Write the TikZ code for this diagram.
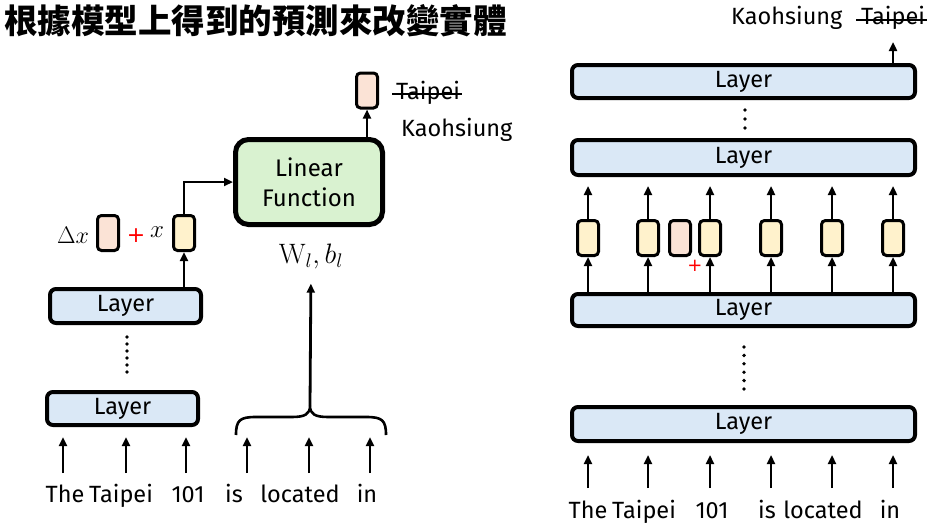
\RequirePackage{fix-cm}
\documentclass[tikz,border=0pt]{standalone}
\usepackage[no-math]{fontspec}
\setmainfont{Fira Sans}
\newfontfamily\cjk{Noto Sans CJK TC}
\newfontfamily\plusfont{DejaVu Sans}
\usetikzlibrary{arrows.meta}
\definecolor{layerblue}{HTML}{DAE8F6}
\definecolor{vecyellow}{HTML}{FFF2CC}
\definecolor{vecpink}{HTML}{FBE3D6}
\definecolor{lingreen}{HTML}{D9F2D0}
\tikzset{
  layerbox/.style={draw, line width=4pt, rounded corners=6pt, fill=layerblue, inner sep=0pt},
  vecbox/.style={draw, line width=3pt, rounded corners=4pt, minimum width=21pt, minimum height=35pt, inner sep=0pt},
  arr/.style={-{Triangle[length=9pt,width=8pt]}, line width=2.8pt},
  word/.style={inner sep=0pt, text height=16pt, text depth=5pt, anchor=base},
  dotline/.style={line width=3.8pt, line cap=round},
  plus/.style={inner sep=0pt, text=red},
}
\begin{document}
\begin{tikzpicture}[x=1pt,y=-1pt, font=\fontsize{23.5}{27}\selectfont]
\useasboundingbox (0,0) rectangle (930,525);
% title
\node[anchor=west, inner sep=0pt, font=\cjk\bfseries\fontsize{33.5}{36}\selectfont] (title) at (4,21) {根據模型上得到的預測來改變實體};

% ---------- left ----------
\node[layerbox, minimum width=151pt, minimum height=33pt] (LL1) at (122.5,408.5) {Layer};
\node[layerbox, minimum width=151pt, minimum height=34pt] (LL2) at (125.5,306) {Layer};
\draw[dotline, dash pattern=on 0pt off 7pt] (127,337) -- (127,379);

\foreach \n/\x/\t in {1/65/The, 2/121/Taipei, 3/188/101, 4/234/is, 5/300/located, 6/367/in}{
  \node[word] (lw\n) at (\x,502) {\t};
}
\foreach \n/\x in {1/63, 2/126, 3/186}{
  \coordinate (la\n) at (\x,473);
  \draw[arr, shorten >=10pt] (la\n) -- (la\n |- LL1.south);
}
\foreach \n/\x in {4/247, 5/309, 6/370}{
  \coordinate (lb\n) at (\x,473);
  \coordinate (lt\n) at (\x,437);
  \draw[arr] (lb\n) -- (lt\n);
}

% brace
\coordinate (brtip) at (310,406);
\draw[line width=2.6pt] (236,435) .. controls (236,420) and (240,417) .. (256,417)
  -- (292,417) .. controls (305,417) and (310,414) .. (brtip)
  .. controls (310,414) and (315,417) .. (328,417)
  -- (366,417) .. controls (382,417) and (386,420) .. (386,435);

\node[inner sep=0pt, scale=1.17, font=\fontsize{24}{30}\selectfont] (wb) at (311,256) {$\mathrm{W}_l, b_l$};
\draw[arr, shorten >=15pt] (brtip) -- (wb.south);

\node[draw, line width=5pt, rounded corners=13pt, fill=lingreen, minimum width=147pt, minimum height=85pt, align=center, inner sep=0pt, font=\fontsize{24}{30}\selectfont] (lin) at (309,182) {Linear\\Function};

\node[vecbox, fill=vecyellow] (vx) at (184,233) {};
\node[vecbox, fill=vecpink] (vdx) at (108,233) {};
\node[inner sep=0pt, font=\fontsize{24}{28}\selectfont] (ldx) at (73,235) {$\Delta x$};
\node[plus, font=\plusfont\fontsize{22}{24}\selectfont] (lplus) at (136,236) {+};
\node[inner sep=0pt, font=\fontsize{25}{28}\selectfont] (lx) at (157,232) {$x$};

\draw[arr] (LL2.north -| vx) -- (vx.south);
\draw[arr] (vx.north) |- (lin.west);

\node[vecbox, fill=vecpink] (vout) at (367,90.5) {};
\draw[arr] (lin.north -| vout) -- (vout.south);

\node[anchor=base west, inner sep=0pt] (tp1) at (396,99) {Taipei};
\draw[line width=2.2pt] ([shift={(-4pt,5pt)}]tp1.base west) -- ([shift={(2pt,5pt)}]tp1.base east);
\node[anchor=base west, inner sep=0pt] (kh1) at (401,136) {Kaohsiung};

% ---------- right ----------
\node[layerbox, minimum width=343pt, minimum height=33pt] (R1) at (743.5,81.5) {Layer};
\node[layerbox, minimum width=343pt, minimum height=35pt] (R2) at (743.5,157.5) {Layer};
\node[layerbox, minimum width=343pt, minimum height=32pt] (R3) at (743.5,310) {Layer};
\node[layerbox, minimum width=343pt, minimum height=34pt] (R4) at (743.5,424) {Layer};
\draw[dotline, dash pattern=on 0pt off 9pt] (745,110) -- (745,128);
\draw[dotline, dash pattern=on 0pt off 8.4pt] (744,347) -- (744,389);

\foreach \n/\x/\t in {1/588/The, 2/644/Taipei, 3/712/101, 4/767/is, 5/823/located, 6/890/in}{
  \node[word] (rw\n) at (\x,518) {\t};
}
\foreach \n/\x in {1/588, 2/648, 3/710, 4/771, 5/832, 6/893}{
  \coordinate (ra\n) at (\x,488);
  \draw[arr, shorten >=12pt] (ra\n) -- (ra\n |- R4.south);
  \node[vecbox, fill=vecyellow] (rv\n) at (\x,238) {};
  \draw[arr] (R3.north -| rv\n) -- (rv\n.south);
  \draw[arr, shorten >=9pt] (rv\n.north) -- (R2.south -| rv\n);
}
\node[vecbox, fill=vecpink] (rvp) at (680,238) {};
\node[plus, font=\plusfont\fontsize{18}{20}\selectfont] (rplus) at (695,266) {+};

\node[anchor=base west, inner sep=0pt] (kh2) at (731,24) {Kaohsiung};
\node[anchor=base west, inner sep=0pt] (tp2) at (861,24) {Taipei};
\draw[line width=2.2pt] ([shift={(-5pt,4pt)}]tp2.base west) -- ([shift={(2pt,4pt)}]tp2.base east);
\coordinate (rtop) at (893,42);
\draw[arr] (R1.north -| rtop) -- (rtop);
\end{tikzpicture}
\end{document}
